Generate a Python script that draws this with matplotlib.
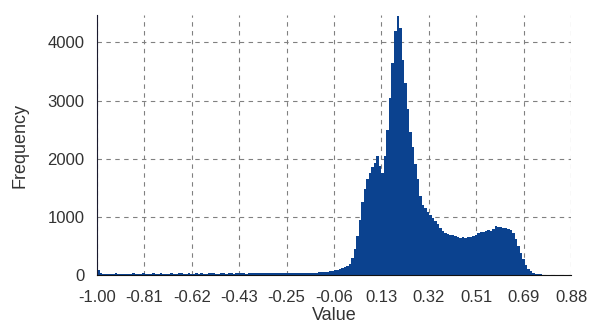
import numpy as np
import matplotlib
matplotlib.use("Agg")
import matplotlib.pyplot as plt

# histogram counts, bins of width 0.01 from -1.00 to 0.88
counts = [
    90, 35, 22, 25, 20, 24, 21, 26, 23, 20,
    22, 25, 24, 21, 27, 23, 20, 24, 26, 22,
    21, 24, 28, 25, 22, 26, 23, 21, 25, 27,
    24, 22, 26, 28, 23, 25, 27, 24, 22, 26,
    25, 28, 24, 23, 27, 26, 29, 25, 24, 27,
    26, 24, 28, 27, 25, 29, 26, 28, 27, 25,
    28, 27, 30, 26, 29, 28, 27, 30, 29, 28,
    29, 31, 28, 30, 32, 29, 31, 30, 33, 32,
    32, 34, 33, 35, 36, 38, 40, 42, 45, 48,
    52, 57, 63, 70, 80, 92, 105, 118, 132, 150,
    190, 290, 440, 670, 950, 1250, 1480, 1650, 1760, 1850,
    1920, 2040, 1880, 1760, 2050, 2500, 3050, 3650, 4200, 4450,
    4250, 3700, 3300, 2850, 2450, 2200, 1900, 1650, 1350, 1200,
    1150, 1090, 1030, 980, 920, 870, 810, 760, 730, 710,
    690, 680, 665, 655, 640, 650, 635, 645, 660, 675,
    690, 715, 745, 740, 765, 770, 765, 790, 835, 830,
    825, 810, 800, 790, 780, 720, 620, 500, 380, 270,
    180, 110, 70, 40, 25, 15, 10, 6, 3, 2,
    1, 1, 0, 0, 0, 0, 0, 0,
]
bin_lo, bin_hi = -1.0, 0.88

x_ticklabels = ["-1.00", "-0.81", "-0.62", "-0.43", "-0.25", "-0.06",
                "0.13", "0.32", "0.51", "0.69", "0.88"]
x_max = 0.8833
y_ticks = [0, 1000, 2000, 3000, 4000]

BLUE = "#0b428f"
TXT = "#333333"

plt.rcParams["font.family"] = ["Liberation Sans", "DejaVu Sans"]

fig = plt.figure(figsize=(5.9, 3.25), dpi=100)
ax = fig.add_axes([97 / 590, 1 - 275 / 325, (571 - 97) / 590, 260 / 325])

edges = np.linspace(bin_lo, bin_hi, len(counts) + 1)
heights = np.append(counts, counts[-1])
ax.fill_between(edges, heights, step="post", color=BLUE, linewidth=0,
                zorder=2)

ax.set_xlim(-1.0, x_max)
ax.set_ylim(0, 4470)
ax.set_xticks(np.linspace(-1.0, x_max, len(x_ticklabels)))
ax.set_xticklabels(x_ticklabels)
ax.set_yticks(y_ticks)

ax.grid(True, color="#808080", linestyle=(0, (4, 4)), linewidth=0.8, zorder=1)
ax.set_axisbelow(True)

for s in ["top", "right"]:
    ax.spines[s].set_visible(False)
ax.spines["left"].set_color("#1a1a2e")
ax.spines["bottom"].set_color("#111111")
ax.spines["left"].set_zorder(3)
ax.spines["bottom"].set_zorder(3)

ax.tick_params(axis="both", length=0, labelsize=12, labelcolor=TXT)
ax.tick_params(axis="x", pad=11)
ax.tick_params(axis="y", pad=9)

ax.set_xlabel("Value", fontsize=13, color=TXT, labelpad=1)
ax.set_ylabel("Frequency", fontsize=13, color=TXT, labelpad=13.5)

fig.savefig("out.png", dpi=100)
